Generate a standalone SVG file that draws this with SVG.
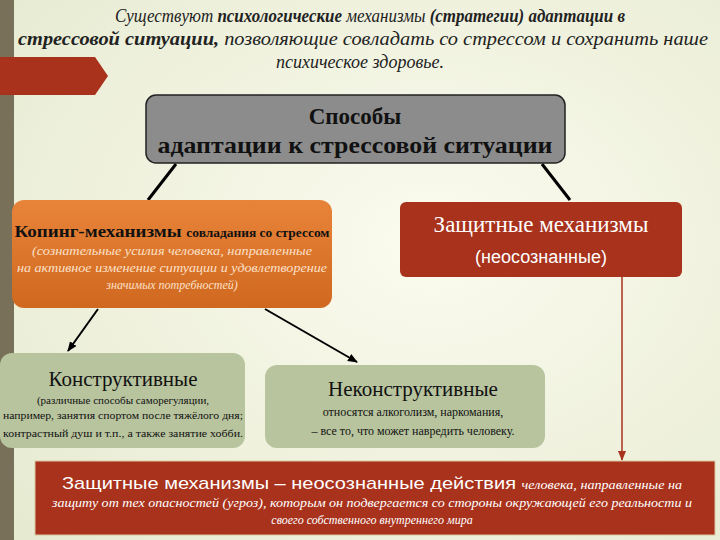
<svg xmlns="http://www.w3.org/2000/svg" width="720" height="540" viewBox="0 0 720 540">
<defs>
<radialGradient id="bg" cx="0.6" cy="0.45" r="0.8"><stop offset="0" stop-color="#fbfbef"/><stop offset="1" stop-color="#e6ead0"/></radialGradient>
<linearGradient id="og" x1="0" y1="0" x2="0" y2="1"><stop offset="0" stop-color="#e8843a"/><stop offset="1" stop-color="#d0681f"/></linearGradient>
<marker id="ah" markerWidth="10" markerHeight="10" refX="9" refY="5" orient="auto" markerUnits="userSpaceOnUse"><path d="M0,1 L10,5 L0,9 z" fill="#000"/></marker>
<marker id="ahr" markerWidth="10" markerHeight="10" refX="9" refY="5" orient="auto" markerUnits="userSpaceOnUse"><path d="M0,1 L10,5 L0,9 z" fill="#a8321c"/></marker>
</defs>
<rect width="720" height="540" fill="url(#bg)"/>
<rect x="0" y="0" width="14" height="540" fill="#787058"/>
<path d="M0,57 L95,57 L108,76 L95,95 L0,95 z" fill="#a8321c"/>
<g font-family="Liberation Serif, DejaVu Serif, serif" font-style="italic" font-size="18" fill="#222" text-anchor="middle">
<text x="370" y="22" textLength="510" lengthAdjust="spacingAndGlyphs">Существуют <tspan font-weight="bold">психологические</tspan> механизмы <tspan font-weight="bold">(стратегии) адаптации в</tspan></text>
<text x="363" y="45" textLength="690" lengthAdjust="spacingAndGlyphs"><tspan font-weight="bold">стрессовой ситуации,</tspan> позволяющие совладать со стрессом и сохранить наше</text>
<text x="360" y="68">психическое здоровье.</text>
</g>
<g id="connectors" stroke="#000" stroke-width="3" fill="none">
<line x1="176" y1="164" x2="148" y2="200"/>
<line x1="542" y1="164" x2="570" y2="200"/>
<line x1="98" y1="309" x2="68" y2="351" stroke-width="2" marker-end="url(#ah)"/>
<line x1="265" y1="309" x2="357" y2="362" stroke-width="2" marker-end="url(#ah)"/>
<line x1="622" y1="277" x2="622" y2="460" stroke="#a8321c" stroke-width="1.5" marker-end="url(#ahr)"/>
</g>
<g id="root">
<rect x="146" y="95" width="419" height="68" rx="10" fill="#8c8c8c" stroke="#222" stroke-width="1.5"/>
<g font-family="Liberation Serif, DejaVu Serif, serif" font-weight="bold" font-size="23" fill="#111" text-anchor="middle">
<text x="355" y="124">Способы</text>
<text x="355" y="153" textLength="395" lengthAdjust="spacingAndGlyphs">адаптации к стрессовой ситуации</text>
</g>
</g>
<g id="coping">
<rect x="12" y="200" width="320" height="108" rx="12" fill="url(#og)"/>
<text font-family="Liberation Serif, DejaVu Serif, serif" font-weight="bold" fill="#111" x="172" y="237" text-anchor="middle" textLength="315" lengthAdjust="spacingAndGlyphs"><tspan font-size="17">Копинг-механизмы </tspan><tspan font-size="12">совладания со стрессом</tspan></text>
<g font-family="Liberation Serif, DejaVu Serif, serif" font-style="italic" font-size="12" fill="#fbe0c8" text-anchor="middle">
<text x="172" y="255" textLength="280" lengthAdjust="spacingAndGlyphs">(сознательные усилия человека, направленные</text>
<text x="172" y="272" textLength="310" lengthAdjust="spacingAndGlyphs">на активное изменение ситуации и удовлетворение</text>
<text x="172" y="289">значимых потребностей)</text>
</g>
</g>
<g id="defense">
<rect x="400" y="202" width="282" height="75" rx="6" fill="#a8321c"/>
<text font-family="Liberation Serif, DejaVu Serif, serif" font-size="23" fill="#fff" text-anchor="middle" x="541" y="232">Защитные механизмы</text>
<text font-family="Liberation Sans, DejaVu Sans, sans-serif" font-size="18" fill="#fff" text-anchor="middle" x="541" y="263">(неосознанные)</text>
</g>
<g id="constructive">
<rect x="0" y="353" width="245" height="95" rx="12" fill="#b8c49e"/>
<text font-family="Liberation Serif, DejaVu Serif, serif" font-size="21" fill="#111" text-anchor="middle" x="123" y="386">Конструктивные</text>
<g font-family="Liberation Serif, DejaVu Serif, serif" font-size="11" fill="#111" text-anchor="middle">
<text x="123" y="404">(различные способы саморегуляции,</text>
<text x="123" y="419" textLength="240" lengthAdjust="spacingAndGlyphs">например, занятия спортом после тяжёлого дня;</text>
<text x="123" y="437" textLength="240" lengthAdjust="spacingAndGlyphs">контрастный душ и т.п., а также занятие хобби.</text>
</g>
</g>
<g id="nonconstructive">
<rect x="265" y="365" width="280" height="83" rx="12" fill="#b8c49e"/>
<text font-family="Liberation Serif, DejaVu Serif, serif" font-size="21" fill="#111" text-anchor="middle" x="413" y="396">Неконструктивные</text>
<g font-family="Liberation Serif, DejaVu Serif, serif" font-size="12" fill="#111" text-anchor="middle">
<text x="413" y="416">относятся алкоголизм, наркомания,</text>
<text x="413" y="435">– все то, что может навредить человеку.</text>
</g>
</g>
<g id="definition">
<rect x="35" y="461" width="680" height="74" fill="#a8321c" stroke="#d9c8a0" stroke-width="1"/>
<text font-family="Liberation Serif, DejaVu Serif, serif" font-style="italic" fill="#fff" text-anchor="middle" x="372" y="489" textLength="620" lengthAdjust="spacingAndGlyphs"><tspan font-family="Liberation Sans, DejaVu Sans, sans-serif" font-style="normal" font-size="17">Защитные механизмы – неосознанные действия </tspan><tspan font-size="12">человека, направленные на</tspan></text>
<text font-family="Liberation Serif, DejaVu Serif, serif" font-style="italic" font-size="12" fill="#fff" text-anchor="middle" x="372" y="507" textLength="640" lengthAdjust="spacingAndGlyphs">защиту от тех опасностей (угроз), которым он подвергается со стороны окружающей его реальности и</text>
<text font-family="Liberation Serif, DejaVu Serif, serif" font-style="italic" font-size="12" fill="#fff" text-anchor="middle" x="372" y="524">своего собственного внутреннего мира</text>
</g>
</svg>
